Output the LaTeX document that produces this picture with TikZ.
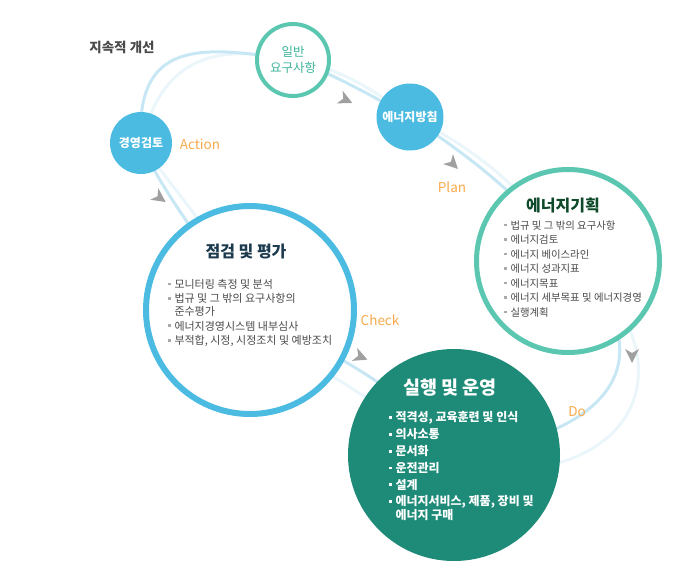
\documentclass[tikz,border=0pt]{standalone}
\usepackage{fontspec}
\setmainfont{Noto Sans CJK KR}
\usepackage{tikz}
\usetikzlibrary{calc}
\pgfdeclarelayer{background}
\pgfsetlayers{background,main}

\definecolor{cycleblue}{HTML}{C8E7F4}
\definecolor{faintblue}{HTML}{EBF6FB}
\definecolor{circblue}{HTML}{4BBBE1}
\definecolor{tealring}{HTML}{5BC7B1}
\definecolor{tealtext}{HTML}{3DB59B}
\definecolor{deepteal}{HTML}{1E8B79}
\definecolor{pdcaorange}{HTML}{F9A94B}
\definecolor{navytitle}{HTML}{1D3B4E}
\definecolor{greentitle}{HTML}{0E4A2A}
\definecolor{itemgray}{HTML}{4A4A4A}
\definecolor{bulletgray}{HTML}{AAAAAA}
\definecolor{arrowgray}{HTML}{A0A0A0}

\newcommand{\bul}[1]{\textcolor{#1}{\rule[2.9pt]{2.8pt}{2.8pt}}\hspace{4pt}}

\begin{document}
\begin{tikzpicture}[x=1pt,y=-1pt]
    % --- Styles ---
    \tikzstyle{smallblue}=[circle, fill=circblue, inner sep=0pt, text=white, font=\fontsize{12}{14}\selectfont\bfseries]
    \tikzstyle{smallring}=[circle, draw=tealring, line width=4pt, fill=white, inner sep=0pt, minimum size=72pt, align=center, text=tealtext, font=\fontsize{12.5}{16}\selectfont]
    \tikzstyle{bigring}=[circle, fill=white, inner sep=0pt]
    \tikzstyle{title_text}=[font=\fontsize{16}{18}\selectfont\bfseries]
    \tikzstyle{item_list}=[anchor=north west, inner sep=0pt, align=left]
    \tikzstyle{pdca}=[text=pdcaorange, font=\fontsize{13.5}{15}\selectfont]
    \tikzstyle{flow}=[cycleblue, line width=3pt]
    \tikzstyle{flowfaint}=[faintblue, line width=3pt]
    \tikzstyle{chev}=[fill=arrowgray]

    \useasboundingbox (0,0) rectangle (690,584);

    % --- 1. Circles ---
    \node[smallblue, minimum size=62pt] (review) at (141,143) {경영검토};
    \node[smallring] (req) at (293,60) {일반\\요구사항};
    \node[smallblue, minimum size=67pt] (policy) at (410,117) {에너지방침};
    \node[bigring, draw=tealring, line width=5pt, minimum size=183pt] (plan) at (568,261) {};
    \node[circle, fill=deepteal, inner sep=0pt, minimum size=212pt] (doop) at (454,455) {};
    \node[bigring, draw=circblue, line width=6pt, minimum size=208pt] (check) at (250,310) {};

    % --- 2. Cycle behind the circles ---
    \begin{pgfonlayer}{background}
        \draw[flowfaint] (review.center) .. controls (162,60) and (212,42) .. (req.center);
        \draw[flowfaint] (req.center) .. controls (335,66) and (375,90) .. (policy.center);
        \draw[flowfaint] (policy.center) .. controls (465,142) and (535,192) .. (plan.center);
        \draw[flowfaint] (plan.center) .. controls (680,330) and (670,490) .. ($(doop.center)+(0,15)$);
        \draw[flowfaint] ($(doop.center)+(0,15)$) .. controls (390,400) and (310,370) .. ($(check.center)+(0,10)$);
        \draw[flowfaint] ($(check.center)+(0,10)$) .. controls (232,250) and (180,200) .. (review.center);

        \draw[flow] (review.center) .. controls (135,40) and (200,45) .. (req.center);
        \draw[flow] (req.center) .. controls (330,72) and (370,95) .. (policy.center);
        \draw[flow] (policy.center) .. controls (460,150) and (530,200) .. (plan.center);
        \draw[flow] (plan.center) .. controls (650,330) and (650,430) .. (doop.center);
        \draw[flow] (doop.center) .. controls (400,380) and (320,350) .. (check.center);
        \draw[flow] (check.center) .. controls (215,260) and (160,190) .. (review.center);
    \end{pgfonlayer}

    % --- 3. Titles and lists ---
    \node[title_text, text=navytitle] (checktitle) at (246,252) {점검 및 평가};
    \node[item_list, text=itemgray, font=\fontsize{11}{14.6}\selectfont] (checklist) at (167.5,279) {
        \bul{bulletgray}모니터링 측정 및 분석\\
        \bul{bulletgray}법규 및 그 밖의 요구사항의\\[-2pt]
        \hspace{6.8pt}준수평가\\
        \bul{bulletgray}에너지경영시스템 내부심사\\
        \bul{bulletgray}부적합, 시정, 시정조치 및 예방조치
    };

    \node[title_text, text=greentitle] (plantitle) at (563,205) {에너지기획};
    \node[item_list, text=itemgray, font=\fontsize{10.4}{14.5}\selectfont] (planlist) at (503.5,220.5) {
        \bul{bulletgray}법규 및 그 밖의 요구사항\\
        \bul{bulletgray}에너지검토\\
        \bul{bulletgray}에너지 베이스라인\\
        \bul{bulletgray}에너지 성과지표\\
        \bul{bulletgray}에너지목표\\
        \bul{bulletgray}에너지 세부목표 및 에너지경영\\
        \bul{bulletgray}실행계획
    };

    \node[title_text, text=white, font=\fontsize{18.5}{20}\selectfont\bfseries] (dotitle) at (450,388) {실행 및 운영};
    \node[item_list, text=white, font=\fontsize{12}{16.8}\selectfont\bfseries] (dolist) at (388.5,411.5) {
        \bul{white}적격성, 교육훈련 및 인식\\
        \bul{white}의사소통\\
        \bul{white}문서화\\
        \bul{white}운전관리\\
        \bul{white}설계\\
        \bul{white}에너지서비스, 제품, 장비 및\\[-2.8pt]
        \hspace{6.8pt}에너지 구매
    };

    % --- 4. Labels ---
    \node[text=itemgray, font=\fontsize{13.5}{15}\selectfont\bfseries] (improve) at (122,47) {지속적 개선};
    \node[pdca] (action) at (200,144) {Action};
    \node[pdca] (planlbl) at (452,187) {Plan};
    \node[pdca] (checklbl) at (380,320) {Check};
    \node[pdca] (dolbl) at (577,412) {Do};

    % --- 5. Arrowheads ---
    \fill[chev, shift={(346,100)}, rotate=-25] (7,0) -- (-7,-7) -- (-3,0) -- (-7,7) -- cycle;
    \fill[chev, shift={(453,164)}, rotate=-45] (7,0) -- (-7,-7) -- (-3,0) -- (-7,7) -- cycle;
    \fill[chev, shift={(160,198)}, rotate=-35] (7,0) -- (-7,-7) -- (-3,0) -- (-7,7) -- cycle;
    \fill[chev, shift={(361,357)}, rotate=-22] (7,0) -- (-7,-7) -- (-3,0) -- (-7,7) -- cycle;
    \fill[chev, shift={(632,356)}, rotate=-90] (7,0) -- (-7,-7) -- (-3,0) -- (-7,7) -- cycle;

\end{tikzpicture}
\end{document}
